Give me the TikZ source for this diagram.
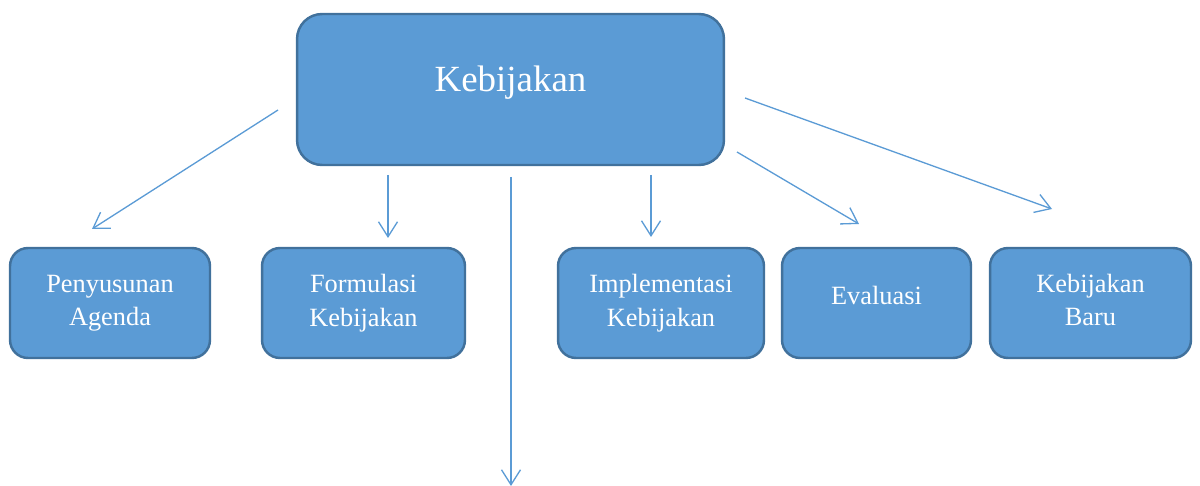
\documentclass[tikz,border=0pt]{standalone}
\usepackage{fontspec}
\setmainfont{Liberation Serif}
\usetikzlibrary{arrows.meta}
\definecolor{boxfill}{HTML}{5B9BD5}
\definecolor{boxline}{HTML}{41719C}

\begin{document}
\begin{tikzpicture}[x=0.02cm, y=-0.02cm,
	box/.style={rectangle, rounded corners=0.36cm, draw=boxline, line width=1.4pt, fill=boxfill, text=white, align=center, minimum height=2.2cm, font=\fontsize{15}{19}\selectfont},
	arr/.style={-{Straight Barb[length=3mm, width=3.8mm]}, boxfill, line width=0.75pt}]
	\useasboundingbox (0,0) rectangle (1200,486);
	% Nodes
	\node[box, rounded corners=0.5cm, minimum width=8.54cm, minimum height=3.02cm, text depth=0.45cm, font=\fontsize{21}{25}\selectfont] (top) at (510.5,89.5) {Kebijakan};
	\node[box, minimum width=4cm, text depth=0.1cm] (agenda) at (110,303) {Penyusunan\\Agenda};
	\node[box, minimum width=4.06cm, text depth=0.1cm] (formulasi) at (363.5,303) {Formulasi\\Kebijakan};
	\node[box, minimum width=4.12cm] (implementasi) at (661,303) {Implementasi\\Kebijakan};
	\node[box, minimum width=3.78cm, text depth=0.32cm] (evaluasi) at (876.5,303) {Evaluasi};
	\node[box, minimum width=4.02cm, text depth=0.12cm] (baru) at (1090.5,303) {Kebijakan\\Baru};
	
	% Arrow ends
	\coordinate (s1) at (278,110); \coordinate (e1) at (92,229);
	\coordinate (s2) at (388,175); \coordinate (e2) at (388,238);
	\coordinate (s3) at (511,177); \coordinate (e3) at (511,486);
	\coordinate (s4) at (651,175); \coordinate (e4) at (651,237);
	\coordinate (s5) at (737,152); \coordinate (e5) at (859,224);
	\coordinate (s6) at (745,98);  \coordinate (e6) at (1052,209);
	
	% Edges
	\path[arr] (s1) edge (e1);
	\path[arr] (s2) edge (e2);
	\path[arr] (s3) edge (e3);
	\path[arr] (s4) edge (e4);
	\path[arr] (s5) edge (e5);
	\path[arr] (s6) edge (e6);
\end{tikzpicture}
\end{document}
